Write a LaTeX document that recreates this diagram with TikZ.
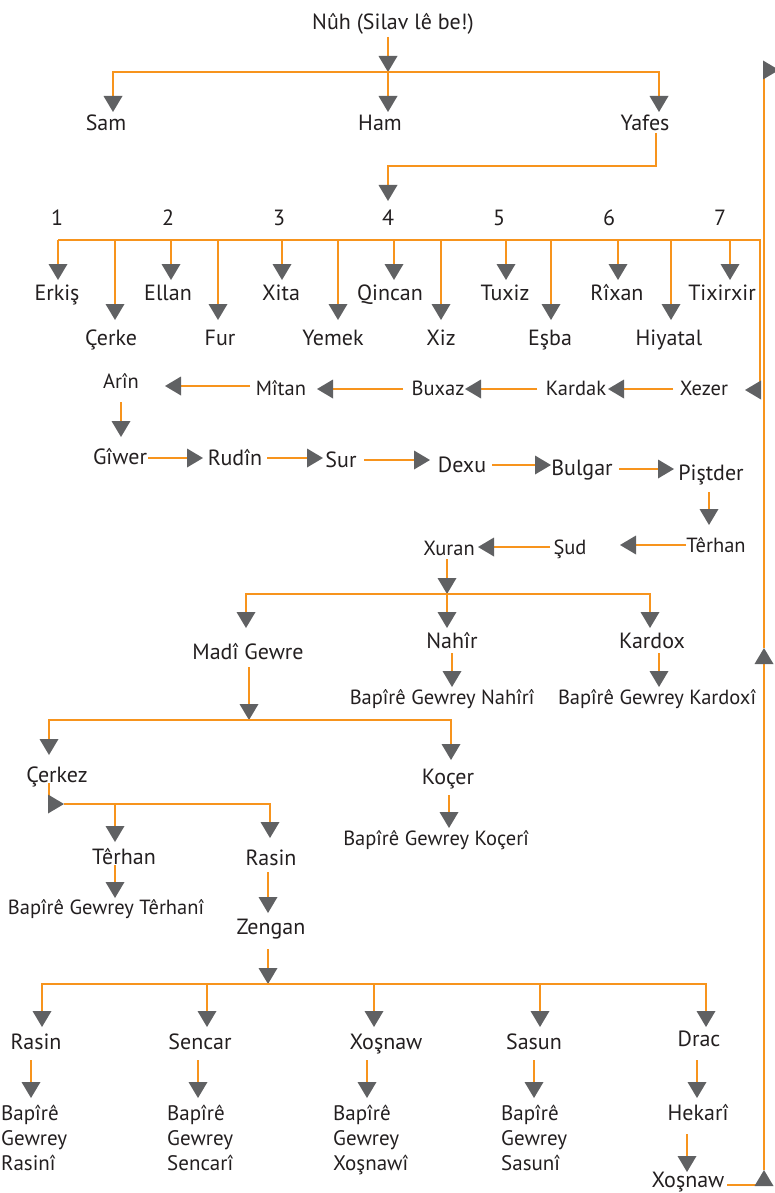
\documentclass[tikz,border=0pt]{standalone}
\usepackage{fontspec}
\setmainfont{PT Sans}
\usetikzlibrary{arrows.meta}
\definecolor{lorange}{HTML}{F7941D}
\definecolor{agray}{HTML}{606163}
\definecolor{tcol}{HTML}{231F20}
\tikzset{
  lbl/.style={inner sep=0pt, text height=15.4pt, text depth=0pt, text=tcol, font=\fontsize{22}{26}\selectfont},
  sml/.style={lbl, text height=14.3pt, font=\fontsize{20.5}{24}\selectfont},
  stk/.style={lbl, anchor=west, text height=14.7pt, font=\fontsize{21}{24}\selectfont},
  ln/.style={draw=lorange, line width=2.3pt},
  arr/.style={ln, -{Triangle[width=19pt,length=16pt,fill=agray,color=agray,line width=0pt]}}
}
\begin{document}
\begin{tikzpicture}[x=1pt,y=-1pt]
\useasboundingbox (0,0) rectangle (775,1193);
% top
\node[lbl] (nuh) at (393,22) {Nûh (Silav lê be!)};
\node[lbl] (sam) at (106,123) {Sam};
\node[lbl] (ham) at (380,123) {Ham};
\node[lbl] (yafes) at (645,123) {Yafes};
\coordinate (j1) at (388,72);
\draw[arr] ([shift={(-5,15)}]nuh.center) -- (j1);
\draw[arr] (j1) -| ([shift={(7,-11)}]sam.center);
\draw[arr] (j1) -| ([shift={(14,-11)}]yafes.center);
\draw[arr] (j1) -- ([shift={(8,-11)}]ham.center);
% numbers
\foreach \nm/\x/\t in {n1/57/1, n2/168/2, n3/279/3, n4/388/4, n5/499/5, n6/609/6, n7/720/7}{
  \node[lbl] (\nm) at (\x,218) {\t};
}
\draw[arr] ([shift={(11,10)}]yafes.center) -- ++(0,33) -| ([shift={(0,-17)}]n4.center);
% row C nodes
\node[sml] (arin) at (121,381) {Arîn};
\node[sml] (mitan) at (281,388) {Mîtan};
\node[sml] (buxaz) at (438,388) {Buxaz};
\node[sml] (kardak) at (576,388) {Kardak};
\node[sml] (xezer) at (704,388) {Xezer};
% bus 2
\coordinate (b2w) at (58,240);
\coordinate (b2e) at (760,240);
\draw[arr] (b2w) -- (b2e) -- (760,390) -- ([shift={(41,2)}]xezer.center);
\foreach \nm/\lx/\ax/\t in {erkis/57/58/Erkiş, ellan/168/171/Ellan, xita/281/282/Xita, qincan/390/394/Qincan, tuxiz/505/506/Tuxiz, rixan/617/618/Rîxan, tixir/722/730/Tixirxir}{
  \node[lbl] (\nm) at (\lx,293) {\t};
  \draw[arr] (\ax,240) -- ([shift={({\ax-\lx},-13)}]\nm.center);
}
\foreach \nm/\lx/\ax/\t in {cerke/111/115/Çerke, fur/220/218/Fur, yemek/333/338/Yemek, xiz/441/441/Xiz, esba/550/551/Eşba, hiyatal/669/671/Hiyatal}{
  \node[lbl] (\nm) at (\lx,338) {\t};
  \draw[arr] (\ax,240) -- ([shift={({\ax-\lx},-18)}]\nm.center);
}
% row C arrows
\draw[arr] ([shift={(-31,-2)}]mitan.center) -- ([shift={(44,5)}]arin.center);
\draw[arr] ([shift={(-35,1)}]buxaz.center) -- ([shift={(36,1)}]mitan.center);
\draw[arr] ([shift={(-39,1)}]kardak.center) -- ([shift={(27,1)}]buxaz.center);
\draw[arr] ([shift={(-31,1)}]xezer.center) -- ([shift={(32,1)}]kardak.center);
% row D
\node[lbl] (giwer) at (120,457) {Gîwer};
\node[lbl] (rudin) at (235,458) {Rudîn};
\node[lbl] (sur) at (341,460) {Sur};
\node[lbl] (dexu) at (462,465) {Dexu};
\node[lbl] (bulgar) at (582,468) {Bulgar};
\node[lbl] (pistder) at (711,473) {Piştder};
\draw[arr] ([shift={(0,21)}]arin.center) -- ([shift={(1,-20)}]giwer.center);
\draw[arr] ([shift={(28,1)}]giwer.center) -- ([shift={(-32,0)}]rudin.center);
\draw[arr] ([shift={(32,0)}]rudin.center) -- ([shift={(-18,-2)}]sur.center);
\draw[arr] ([shift={(23,0)}]sur.center) -- ([shift={(-32,-5)}]dexu.center);
\draw[arr] ([shift={(30,0)}]dexu.center) -- ([shift={(-31,-3)}]bulgar.center);
\draw[arr] ([shift={(37,1)}]bulgar.center) -- ([shift={(-37,-4)}]pistder.center);
% row E
\node[sml] (terhana) at (716,545) {Têrhan};
\node[sml] (sud) at (570,547) {Şud};
\node[sml] (xuran) at (449,548) {Xuran};
\draw[arr] ([shift={(-2,19)}]pistder.center) -- ([shift={(-7,-20)}]terhana.center);
\draw[arr] ([shift={(-30,0)}]terhana.center) -- ([shift={(50,-2)}]sud.center);
\draw[arr] ([shift={(-20,0)}]sud.center) -- ([shift={(29,-1)}]xuran.center);
% Xuran branches
\node[lbl] (madi) at (248,652) {Madî Gewre};
\node[lbl] (nahir) at (452,641) {Nahîr};
\node[lbl] (kardox) at (652,641) {Kardox};
\node[sml] (bnahir) at (442,697) {Bapîrê Gewrey Nahîrî};
\node[sml] (bkardox) at (657,697) {Bapîrê Gewrey Kardoxî};
\coordinate (j3) at (447,594);
\draw[arr] ([shift={(-2,11)}]xuran.center) -- (j3);
\draw[arr] (j3) -| ([shift={(-2,-24)}]madi.center);
\draw[arr] (j3) -- ([shift={(-5,-13)}]nahir.center);
\draw[arr] (j3) -| ([shift={(-2,-13)}]kardox.center);
\draw[arr] ([shift={(0,12)}]nahir.center) -- ([shift={(10,-10)}]bnahir.center);
\draw[arr] ([shift={(7,12)}]kardox.center) -- ([shift={(2,-10)}]bkardox.center);
% Madi branches
\node[lbl] (cerkez) at (57,775) {Çerkez};
\node[lbl] (kocer) at (448,777) {Koçer};
\node[sml] (bkocer) at (436,838) {Bapîrê Gewrey Koçerî};
\coordinate (j4) at (249,720);
\draw[arr] ([shift={(1,15)}]madi.center) -- (j4);
\draw[arr] (j4) -| ([shift={(-8,-20)}]cerkez.center);
\draw[arr] (j4) -| ([shift={(3,-17)}]kocer.center);
\draw[arr] ([shift={(1,18)}]kocer.center) -- ([shift={(13,-10)}]bkocer.center);
% Cerkez branches
\node[lbl] (terhanb) at (124,857) {Têrhan};
\node[lbl] (rasina) at (271,858) {Rasin};
\node[sml] (bterhan) at (106,907) {Bapîrê Gewrey Têrhanî};
\node[lbl] (zengan) at (271,927) {Zengan};
\coordinate (j5) at (64,804);
\draw[arr] ([shift={(-8,8)}]cerkez.center) |- (j5);
\draw[arr] (j5) -| ([shift={(-9,-15)}]terhanb.center);
\draw[arr] (j5) -| ([shift={(-1,-20)}]rasina.center);
\draw[arr] ([shift={(-9,8)}]terhanb.center) -- ([shift={(9,-9)}]bterhan.center);
\draw[arr] ([shift={(-3,14)}]rasina.center) -- ([shift={(-3,-14)}]zengan.center);
% Zengan branches
\coordinate (j6) at (268,984);
\draw[arr] ([shift={(-3,22)}]zengan.center) -- (j6);
\node[lbl] (rasinb) at (36,1042) {Rasin};
\node[lbl] (sencar) at (200,1042) {Sencar};
\node[lbl] (xosnawa) at (386,1042) {Xoşnaw};
\node[lbl] (sasun) at (534,1042) {Sasun};
\node[lbl] (drac) at (699,1039) {Drac};
\draw[arr] (j6) -| ([shift={(6,-15)}]rasinb.center);
\draw[arr] (j6) -| ([shift={(7,-15)}]sencar.center);
\draw[arr] (j6) -| ([shift={(-12,-15)}]xosnawa.center);
\draw[arr] (j6) -| ([shift={(6,-15)}]sasun.center);
\draw[arr] (j6) -| ([shift={(7,-12)}]drac.center);
% stacks
\node[stk] (brasin) at (1,1113) {Bapîrê};
\node[stk] at (1,1138) {Gewrey};
\node[stk] at (1,1163) {Rasinî};
\node[stk] (bsencar) at (167,1113) {Bapîrê};
\node[stk] at (167,1138) {Gewrey};
\node[stk] at (167,1163) {Sencarî};
\node[stk] (bxosnaw) at (333,1113) {Bapîrê};
\node[stk] at (333,1138) {Gewrey};
\node[stk] at (333,1163) {Xoşnawî};
\node[stk] (bsasun) at (501,1113) {Bapîrê};
\node[stk] at (501,1138) {Gewrey};
\node[stk] at (501,1163) {Sasunî};
\draw[arr] ([shift={(-5,18)}]rasinb.center) -- ([shift={(30,-15)}]brasin.west);
\draw[arr] ([shift={(-2,18)}]sencar.center) -- ([shift={(31,-15)}]bsencar.west);
\draw[arr] ([shift={(-19,18)}]xosnawa.center) -- ([shift={(34,-15)}]bxosnaw.west);
\draw[arr] ([shift={(0,18)}]sasun.center) -- ([shift={(33,-15)}]bsasun.west);
% Drac chain
\node[lbl] (hekari) at (698,1113) {Hekarî};
\node[lbl] (xosnawb) at (688,1180) {Xoşnaw};
\draw[arr] ([shift={(-2,21)}]drac.center) -- ([shift={(-1,-15)}]hekari.center);
\draw[arr] ([shift={(-11,21)}]hekari.center) -- ([shift={(-1,-8)}]xosnawb.center);
% outer return line
\coordinate (r1) at (764,1170);
\coordinate (r2) at (764,648);
\coordinate (r3) at (779,70);
\draw[arr] ([shift={(39,5)}]xosnawb.center) -| (r1);
\draw[arr] (r1) -- (r2);
\draw[arr] (r2) |- (r3);
\end{tikzpicture}
\end{document}
